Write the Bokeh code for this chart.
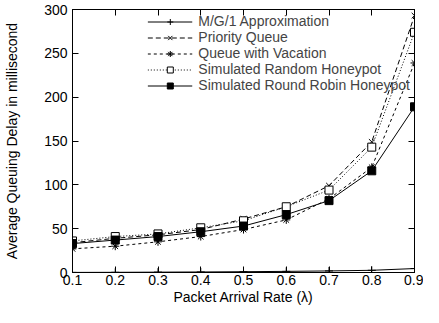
from bokeh.plotting import figure
from bokeh.models import Range1d, LinearAxis, FixedTicker, Legend, LegendItem
from bokeh.embed import file_html
from bokeh.resources import INLINE

lam = [0.1, 0.2, 0.3, 0.4, 0.5, 0.6, 0.7, 0.8, 0.9]
mg1 = [0.1, 0.2, 0.4, 0.6, 0.9, 1.3, 1.8, 2.5, 4.5]
priority = [34, 39, 43, 49, 61, 75, 99, 149, 293]
vacation = [27, 30, 35, 41, 49, 60, 84, 120, 239]
random_hp = [36, 41, 44, 51, 59, 75, 94, 143, 274]
round_robin = [33, 37, 41, 46.5, 53, 66, 82, 116, 189]
x_ticks = [0.1, 0.2, 0.3, 0.4, 0.5, 0.6, 0.7, 0.8, 0.9]
y_ticks = [0, 50, 100, 150, 200, 250, 300]

FONT = "Liberation Sans"
FS = "14px"

p = figure(width=423, height=307, output_backend="svg", toolbar_location=None,
           x_range=Range1d(0.1, 0.9), y_range=Range1d(0, 300),
           min_border_top=9, min_border_right=9, min_border_bottom=0, min_border_left=72)
p.grid.visible = False
p.outline_line_color = "black"
p.outline_line_width = 1
p.background_fill_color = "white"
p.border_fill_color = "white"

for ax in (p.xaxis[0], p.yaxis[0]):
    ax.major_tick_in = 6
    ax.major_tick_out = 0
    ax.minor_tick_in = 0
    ax.minor_tick_out = 0
    ax.axis_line_color = "black"
    ax.major_label_text_font = FONT
    ax.major_label_text_font_size = FS
    ax.major_label_text_color = "black"
    ax.axis_label_text_font = FONT
    ax.axis_label_text_font_size = FS
    ax.axis_label_text_font_style = "normal"
    ax.axis_label_text_color = "black"

p.xaxis[0].ticker = FixedTicker(ticks=x_ticks)
p.yaxis[0].ticker = FixedTicker(ticks=y_ticks)
p.xaxis[0].axis_label = "Packet Arrival Rate (λ)"
p.yaxis[0].axis_label = "Average Queuing Delay in millisecond"
p.xaxis[0].major_label_standoff = 2
p.yaxis[0].major_label_standoff = 5
p.xaxis[0].axis_label_standoff = 1
p.yaxis[0].axis_label_standoff = 21

# mirrored ticks (gnuplot style)
top = LinearAxis(ticker=FixedTicker(ticks=x_ticks), major_tick_in=6, major_tick_out=0,
                 minor_tick_in=0, minor_tick_out=0,
                 major_label_overrides={t: "" for t in x_ticks},
                 major_label_standoff=0, axis_line_color="black")
right = LinearAxis(ticker=FixedTicker(ticks=y_ticks), major_tick_in=6, major_tick_out=0,
                   minor_tick_in=0, minor_tick_out=0,
                   major_label_overrides={t: "" for t in y_ticks},
                   major_label_standoff=0, axis_line_color="black")
p.add_layout(top, "above")
p.add_layout(right, "right")

r1 = p.line(lam, mg1, line_color="black", line_width=1)
m1 = p.scatter(lam, mg1, marker="cross", size=8, line_color="black")
r2 = p.line(lam, priority, line_color="black", line_width=1, line_dash="5 3")
m2 = p.scatter(lam, priority, marker="x", size=8, line_color="black")
r3 = p.line(lam, vacation, line_color="black", line_width=1, line_dash="3 3")
m3 = p.scatter(lam, vacation, marker="asterisk", size=8, line_color="black")
r4 = p.line(lam, random_hp, line_color="black", line_width=1, line_dash="1 2")
m4 = p.scatter(lam, random_hp, marker="square", size=8, line_color="black", fill_color="white")
r5 = p.line(lam, round_robin, line_color="black", line_width=1)
m5 = p.scatter(lam, round_robin, marker="square", size=8, line_color="black", fill_color="black")

legend = Legend(items=[
    LegendItem(label="M/G/1 Approximation", renderers=[r1, m1]),
    LegendItem(label="Priority Queue", renderers=[r2, m2]),
    LegendItem(label="Queue with Vacation", renderers=[r3, m3]),
    LegendItem(label="Simulated Random Honeypot", renderers=[r4, m4]),
    LegendItem(label="Simulated Round Robin Honeypot", renderers=[r5, m5]),
], location="top_right")
legend.label_text_font = FONT
legend.label_text_font_size = FS
legend.label_height = 15
legend.glyph_height = 15
legend.glyph_width = 45
legend.label_standoff = 6
legend.spacing = 0
legend.padding = 4
legend.margin = 0
legend.border_line_alpha = 0
legend.background_fill_alpha = 0
p.add_layout(legend)

open("out.html", "w").write(file_html(p, INLINE))
